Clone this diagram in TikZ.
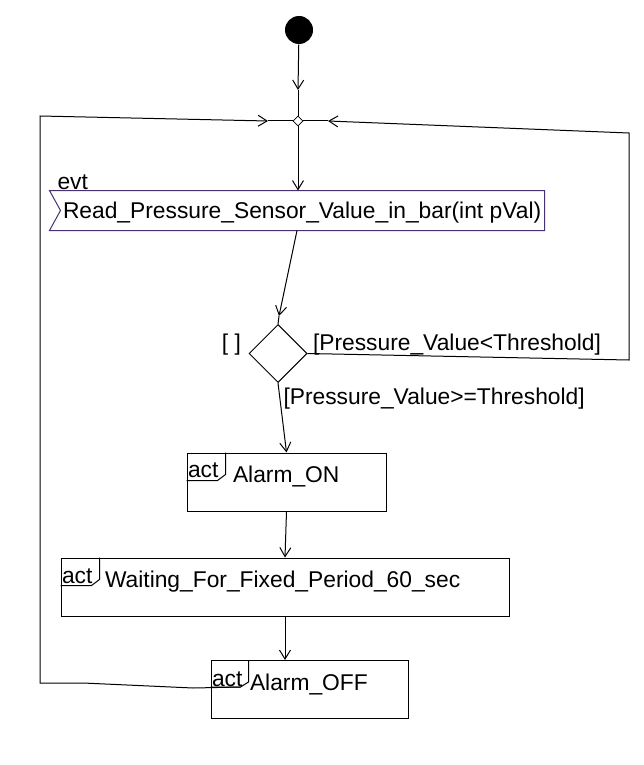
\documentclass[tikz,border=0pt]{standalone}
\usepackage{fontspec}
\setmainfont{Liberation Sans}
\usetikzlibrary{shapes.geometric,arrows.meta}
\definecolor{evtborder}{RGB}{70,50,110}

\begin{document}
\begin{tikzpicture}[x=1pt,y=-1pt,line width=1pt,
  txt/.style={inner sep=0,font=\fontsize{22.8}{27}\selectfont},
  flow/.style={-{Straight Barb[length=9pt,width=11pt]}},
  actbox/.style={draw,rectangle,inner sep=0,minimum height=58}]
\useasboundingbox (0,0) rectangle (643,765);
\node[circle,fill,inner sep=0,minimum size=28] (start) at (299,30) {};
\node[diamond,draw,fill=white,inner sep=0,minimum size=10,line width=0.8pt] (merge) at (298,121) {};
\coordinate (inT) at (298,90);
\coordinate (inL) at (268,121);
\coordinate (inR) at (328,121);
\node[inner sep=0,minimum width=494,minimum height=39] (readEvt) at (297,210.5) {};
\draw[evtborder] (readEvt.north west) -- (readEvt.north east) -- (readEvt.south east) -- (readEvt.south west) -- ([xshift=11pt]readEvt.west) -- cycle;
\node[txt,anchor=base west] (evtLbl) at (57,189) {evt};
\node[txt,anchor=west] (readTxt) at ([shift={(13pt,-2pt)}]readEvt.west) {Read\_Pressure\_Sensor\_Value\_in\_bar(int pVal)};
\node[diamond,draw,inner sep=0,minimum width=58,minimum height=58] (dec) at (278,353.5) {};
\coordinate (inD) at (279,316);
\node[txt,anchor=east] (elseLbl) at ([shift={(-7pt,9pt)}]dec.west) {[ ]};
\node[txt,anchor=west] (lowLbl) at ([shift={(5pt,9pt)}]dec.east) {[Pressure\_Value<Threshold]};
\node[txt,anchor=west] (highLbl) at ([shift={(5pt,-16pt)}]dec.south) {[Pressure\_Value>=Threshold]};
\node[actbox,minimum width=199] (alarmOn) at (286.5,482) {};
\draw ([xshift=39pt]alarmOn.north west) -- ++(0,22) -- ++(-8,6) -- ([yshift=-28pt]alarmOn.north west);
\node[txt,anchor=west] (actOn) at ([shift={(1pt,-18pt)}]alarmOn.north west) {act};
\node[txt,anchor=west] (onTxt) at ([shift={(46pt,-24pt)}]alarmOn.north west) {Alarm\_ON};
\node[actbox,minimum width=448] (waitBox) at (285,587) {};
\draw ([xshift=39pt]waitBox.north west) -- ++(0,22) -- ++(-8,6) -- ([yshift=-28pt]waitBox.north west);
\node[txt,anchor=west] (actWait) at ([shift={(1pt,-19pt)}]waitBox.north west) {act};
\node[txt,anchor=west] (waitTxt) at ([shift={(44pt,-24pt)}]waitBox.north west) {Waiting\_For\_Fixed\_Period\_60\_sec};
\node[actbox,minimum width=197] (alarmOff) at (309.5,689.5) {};
\draw ([xshift=38pt]alarmOff.north west) -- ++(0,22) -- ++(-8,5) -- ([yshift=-27pt]alarmOff.north west);
\node[txt,anchor=west] (actOff) at ([shift={(1pt,-19pt)}]alarmOff.north west) {act};
\node[txt,anchor=west] (offTxt) at ([shift={(39pt,-24pt)}]alarmOff.north west) {Alarm\_OFF};
\coordinate (offCorner) at ([shift={(30pt,-27pt)}]alarmOff.north west);
\draw[flow] (start) -- (inT);
\draw (inT) -- (merge);
\draw[flow] (merge) -- (merge |- readEvt.north);
\draw[flow] (readEvt.south) -- (inD);
\draw (inD) -- (dec.north);
\draw[flow] (dec.south) -- (alarmOn.north);
\draw[flow] (alarmOn.south) -- (waitBox.north);
\draw[flow] (waitBox.south) -- (waitBox.south |- alarmOff.north);
\draw[flow] (offCorner) -- (193,688) -- (83,683) -- (40,683) -- (40,116) -- (inL);
\draw (inL) -- (merge);
\draw[flow] (dec.east) -- (629,360) -- (629,133) -- (inR);
\draw (inR) -- (merge);
\end{tikzpicture}
\end{document}
